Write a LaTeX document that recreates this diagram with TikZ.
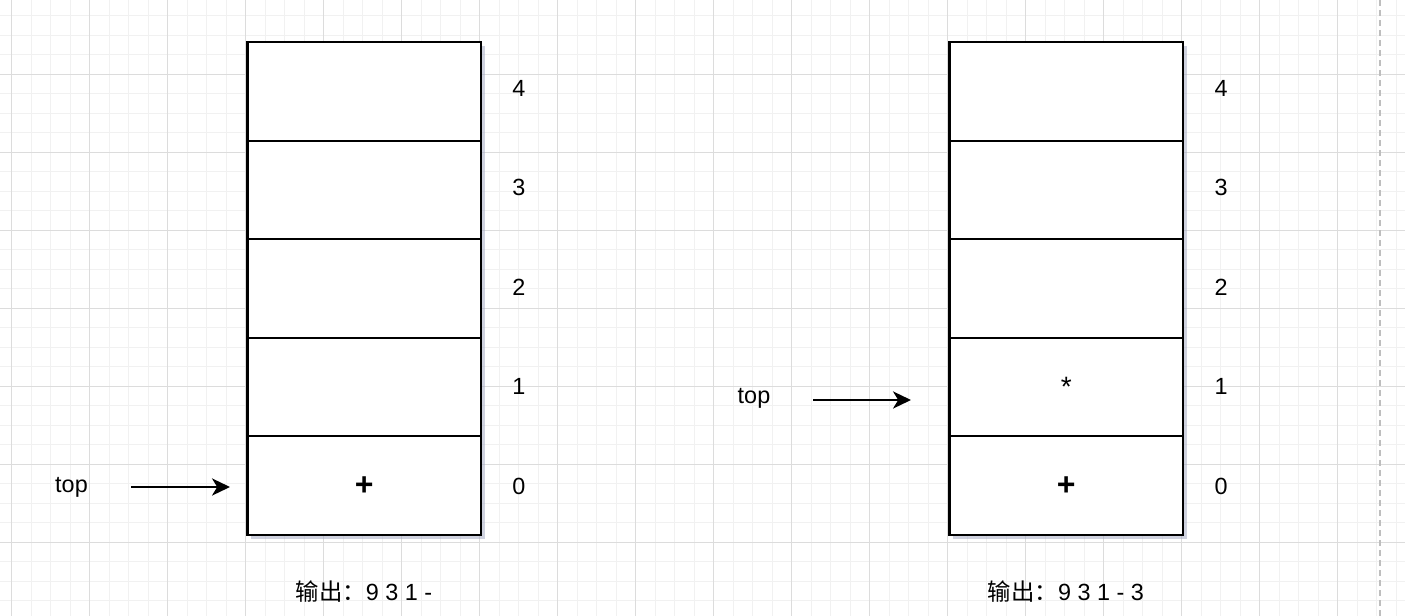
\documentclass[tikz,border=0pt]{standalone}
\usepackage{fontspec}
\setmainfont{Liberation Sans}
\newfontfamily\cjk{Noto Sans CJK SC}
\usetikzlibrary{arrows.meta,shadows}
\definecolor{gridminor}{RGB}{241,241,241}
\definecolor{gridmajor}{RGB}{220,220,220}
\definecolor{shadowc}{RGB}{160,166,192}
\definecolor{dashc}{RGB}{190,190,190}
\begin{document}
\begin{tikzpicture}[x=0.5pt,y=-0.5pt,
  font=\fontsize{11.7}{14}\selectfont,
  cell/.style={draw=black,line width=1.05pt,fill=white,
    minimum width=116.75pt,minimum height=49.3pt,inner sep=0pt,
    font=\fontsize{14}{16}\selectfont,
    drop shadow={shadow xshift=1.8pt,shadow yshift=-1.8pt,fill=shadowc,opacity=0.5}},
  idx/.style={inner sep=0pt},
  lbl/.style={inner sep=0pt},
  ptr/.style={line width=0.95pt,-{Stealth[length=9pt,width=8.6pt,inset=2.6pt]}}]
\useasboundingbox (0,0) rectangle (1405,616);
\fill[white] (0,0) rectangle (1405,616);
\begin{scope}
\clip (0,0) rectangle (1405,616);
% minor grid
\foreach \i in {0,...,73}{
  \draw[gridminor,line width=0.5pt] ({-7.8+19.5*\i},0) -- ({-7.8+19.5*\i},616);}
\foreach \j in {0,...,32}{
  \draw[gridminor,line width=0.5pt] (0,{-4+19.5*\j}) -- (1405,{-4+19.5*\j});}
% major grid
\foreach \i in {0,...,18}{
  \draw[gridmajor,line width=0.5pt] ({11.7+78*\i},0) -- ({11.7+78*\i},616);}
\foreach \j in {0,...,8}{
  \draw[gridmajor,line width=0.5pt] (0,{-4+78*\j}) -- (1405,{-4+78*\j});}
\end{scope}
% page break line
\draw[dashc,line width=0.6pt,dash pattern=on 3pt off 2pt] (1380,0) -- (1380,616);

% left stack
\node[cell] (L4) at (364.25,91.3) {};
\node[cell] (L3) at (364.25,189.9) {};
\node[cell] (L2) at (364.25,288.5) {};
\node[cell] (L1) at (364.25,387.1) {};
\node[cell] (L0) at (364.25,485.7) {\fontsize{16}{18}\selectfont\textbf{+}};
\node[idx] (li4) at (519,88) {4};
\node[idx] (li3) at (519,187) {3};
\node[idx] (li2) at (519,287) {2};
\node[idx] (li1) at (519,386) {1};
\node[idx] (li0) at (519,486) {0};
\node[lbl] (ltop) at (71.5,487) {top};
\coordinate (la) at (131,487);
\coordinate (lb) at (230,487);
\draw[ptr] (la) -- (lb);
\node[lbl] (lout) at (364,592) {{\cjk 输出：}9 3 1 -};

% right stack
\node[cell] (R4) at (1066.25,91.3) {};
\node[cell] (R3) at (1066.25,189.9) {};
\node[cell] (R2) at (1066.25,288.5) {};
\node[cell] (R1) at (1066.25,387.1) {*};
\node[cell] (R0) at (1066.25,485.7) {\fontsize{16}{18}\selectfont\textbf{+}};
\node[idx] (ri4) at (1221,88) {4};
\node[idx] (ri3) at (1221,187) {3};
\node[idx] (ri2) at (1221,287) {2};
\node[idx] (ri1) at (1221,386) {1};
\node[idx] (ri0) at (1221,486) {0};
\node[lbl] (rtop) at (754,398) {top};
\coordinate (ra) at (813,400);
\coordinate (rb) at (911,400);
\draw[ptr] (ra) -- (rb);
\node[lbl] (rout) at (1066,592) {{\cjk 输出：}9 3 1 - 3};
\end{tikzpicture}
\end{document}
